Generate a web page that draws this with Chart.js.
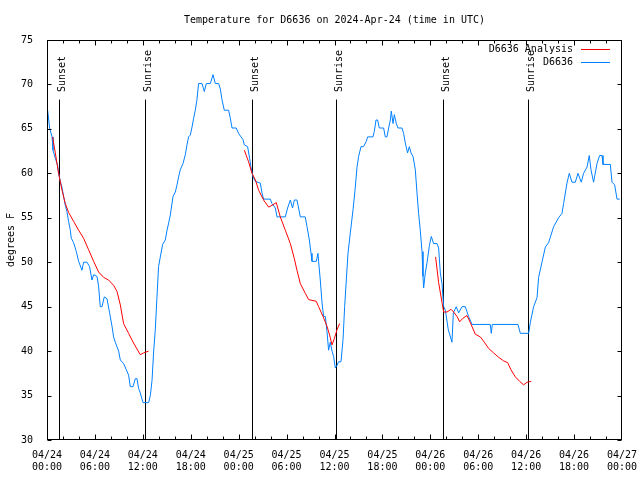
<!DOCTYPE html>
<html>
<head>
<meta charset="utf-8">
<script src="https://cdn.jsdelivr.net/npm/chart.js@4"></script>
<style>
  body { margin: 0; background: #fff; }
  canvas { display: block; }
</style>
</head>
<body>
<canvas id="myChart" width="640" height="480"></canvas>
<script>
// hours since 04/24 00:00 UTC
const blueHours = [0.08,0.33,0.63,0.75,1.04,1.33,1.45,1.67,1.88,2.08,2.29,2.50,2.70,2.92,3.04,3.33,3.67,3.96,4.38,4.58,5.01,5.33,5.63,5.84,6.26,6.46,6.67,6.89,7.17,7.51,7.84,8.14,8.34,8.55,8.97,9.18,9.59,9.93,10.22,10.43,10.77,11.06,11.27,11.47,11.68,12.02,12.72,12.94,13.15,13.35,13.56,13.77,13.97,14.19,14.48,14.81,15.03,15.23,15.44,15.78,16.07,16.28,16.48,16.69,17.03,17.32,17.53,17.73,17.94,18.16,18.36,18.57,18.78,18.98,19.41,19.70,19.95,20.45,20.79,21.07,21.49,21.70,21.91,22.20,22.74,22.95,23.17,23.70,23.99,24.29,24.54,24.71,25.12,25.37,25.54,25.80,26.08,26.71,26.92,27.12,27.96,28.17,28.59,28.80,29.84,30.13,30.47,30.75,30.97,31.30,31.50,31.72,32.34,32.56,32.85,33.06,33.18,33.72,33.93,34.01,34.22,34.44,34.64,34.85,35.06,35.26,35.47,35.69,35.89,36.10,36.31,36.51,36.81,37.07,37.27,37.48,37.69,37.98,38.32,38.57,38.82,39.02,39.32,39.64,39.98,40.15,40.82,40.98,41.20,41.40,41.61,42.15,42.36,42.57,42.78,42.99,43.11,43.33,43.49,43.74,43.95,44.45,44.65,44.87,45.15,45.37,45.58,45.83,46.12,46.33,46.53,46.74,46.96,47.08,47.16,47.37,47.58,47.87,48.12,48.41,48.84,49.04,49.25,49.46,49.67,49.88,50.25,50.71,50.88,51.25,51.54,51.97,52.38,52.79,53.22,55.51,55.63,55.76,58.98,59.27,60.31,60.52,60.93,61.36,61.56,61.98,62.40,62.81,63.44,64.06,64.49,64.69,65.11,65.40,65.74,66.15,66.49,66.90,67.19,67.62,67.90,68.12,68.44,68.87,69.20,69.50,69.62,70.54,70.75,71.08,71.38,71.71];
const blueTemps = [67.1,65.1,64.1,62.6,61.7,60.9,60.0,59.1,58.4,57.4,56.4,55.7,54.6,53.6,52.7,52.2,51.2,50.1,49.1,50.0,50.0,49.5,48.0,48.6,48.4,47.3,45.0,45.0,46.1,45.9,44.3,42.8,41.6,41.0,40.0,39.0,38.6,37.9,37.3,36.0,36.0,36.9,36.9,35.8,35.3,34.2,34.2,35.0,36.7,39.9,42.4,46.1,49.5,50.6,52.0,52.5,53.6,54.4,55.3,57.4,57.9,58.7,59.6,60.4,61.1,62.1,63.2,64.1,64.3,65.2,66.2,67.1,68.3,70.1,70.1,69.2,70.1,70.1,71.1,70.1,70.1,69.5,68.3,67.1,67.1,66.2,65.1,65.1,64.5,64.1,63.8,63.2,63.0,61.7,60.7,59.6,59.1,58.9,57.8,57.1,57.1,56.6,56.1,55.1,55.1,56.1,57.0,56.1,57.0,57.0,56.1,55.1,55.1,54.0,52.5,51.0,50.1,50.1,51.0,50.1,48.0,45.4,43.9,43.9,42.2,40.1,41.0,40.0,39.4,38.1,38.4,38.8,38.8,41.3,45.0,48.0,51.0,53.3,55.9,58.1,60.7,61.9,63.0,63.0,63.6,64.1,64.1,64.7,66.0,66.0,65.1,65.1,64.1,64.1,65.1,66.0,67.0,65.6,66.6,65.6,65.1,65.1,64.5,63.4,62.3,63.0,62.3,61.9,60.4,57.8,55.5,53.6,51.2,48.4,47.1,48.8,49.9,51.8,52.9,52.1,52.1,51.6,48.8,47.6,45.0,44.6,42.4,41.0,44.3,45.0,44.3,45.0,45.0,43.9,43.0,43.0,42.0,43.0,43.0,42.0,42.0,43.2,45.0,46.0,48.3,50.0,51.7,52.2,54.0,55.0,55.5,56.6,58.9,60.0,59.0,59.0,60.0,59.0,60.0,60.7,62.0,60.4,59.0,61.1,62.0,62.0,61.0,61.0,59.0,58.7,57.1,57.1];

// analysis: three nightly runs, null breaks the line
const redHours = [0.70,1.04,1.45,1.88,2.29,2.70,3.33,3.96,4.58,5.21,5.84,6.46,7.09,7.71,8.34,8.77,9.18,9.59,10.22,10.84,11.68,12.10,12.72,18.0,24.71,25.24,25.67,26.08,26.50,27.12,27.75,28.17,28.71,29.21,29.84,30.47,30.97,31.30,31.72,32.34,32.76,33.72,34.01,34.56,35.06,35.39,35.69,35.98,36.31,36.64,42.0,48.66,49.04,49.46,49.67,50.09,50.59,50.92,51.34,51.67,52.09,52.59,53.01,53.63,54.26,54.76,55.30,55.92,56.55,57.18,57.68,58.10,58.64,59.18,59.68,60.11,60.64];
const redTemps = [64.1,62.3,60.0,58.1,56.6,55.6,54.6,53.6,52.7,51.4,50.1,48.9,48.3,48.0,47.4,46.7,45.2,43.1,42.0,40.9,39.6,39.8,40.0,null,62.6,61.3,60.0,59.3,58.1,57.0,56.2,56.4,56.7,55.1,53.6,52.1,50.4,49.1,47.6,46.5,45.8,45.6,45.0,43.9,42.8,41.8,40.7,41.4,42.4,43.1,null,50.6,47.7,45.5,44.4,44.4,44.7,44.4,43.9,43.3,43.7,44.0,43.2,41.9,41.6,41.0,40.3,39.8,39.3,38.9,38.7,37.9,37.1,36.6,36.2,36.5,36.6];

const sunHours = [1.55, 12.22, 25.61, 36.25, 49.64, 60.28];
const sunLabels = ['Sunset', 'Sunrise', 'Sunset', 'Sunrise', 'Sunset', 'Sunrise'];
const dayLabels = ['04/24', '04/25', '04/26', '04/27'];
const yTicks = [30, 35, 40, 45, 50, 55, 60, 65, 70, 75];

const FONT = "'DejaVu Sans Mono', monospace";
Chart.defaults.font.family = FONT;
Chart.defaults.font.size = 10;
Chart.defaults.color = '#000';

const toPoints = (xs, ys) => xs.map((x, i) => ({ x: x, y: ys[i] }));

// box, inward ticks, sunrise/sunset markers and legend, gnuplot style
const frame = {
  id: 'frame',
  beforeDatasetsDraw(chart) {
    const { ctx, chartArea: a, scales: { x, y } } = chart;
    ctx.save();
    ctx.strokeStyle = '#000';
    ctx.lineWidth = 1;
    ctx.fillStyle = '#000';
    ctx.font = '10px ' + FONT;
    sunHours.forEach((h, i) => {
      const px = Math.round(x.getPixelForValue(h)) + 0.5;
      ctx.beginPath();
      ctx.moveTo(px, y.getPixelForValue(68.3));
      ctx.lineTo(px, a.bottom);
      ctx.stroke();
      ctx.save();
      ctx.translate(px + 5.5, 92);
      ctx.rotate(-Math.PI / 2);
      ctx.textAlign = 'left';
      ctx.textBaseline = 'alphabetic';
      ctx.fillText(sunLabels[i], 0, 0);
      ctx.restore();
    });
    ctx.restore();
  },
  afterDatasetsDraw(chart) {
    const { ctx, chartArea: a, scales: { x, y } } = chart;
    ctx.save();
    ctx.strokeStyle = '#000';
    ctx.lineWidth = 1;
    const L = Math.round(a.left) + 0.5, R = Math.round(a.right) - 0.5;
    const T = Math.round(a.top) + 0.5, B = Math.round(a.bottom) - 0.5;
    ctx.beginPath();
    for (let h = 2; h < 72; h += 2) {
      const px = Math.round(x.getPixelForValue(h)) + 0.5;
      const len = h % 6 === 0 ? 5 : 3;
      ctx.moveTo(px, B); ctx.lineTo(px, B - len);
      ctx.moveTo(px, T); ctx.lineTo(px, T + len);
    }
    yTicks.forEach(v => {
      const py = Math.round(y.getPixelForValue(v)) + 0.5;
      ctx.moveTo(L, py); ctx.lineTo(L + 4, py);
      ctx.moveTo(R, py); ctx.lineTo(R - 4, py);
    });
    ctx.stroke();
    ctx.strokeRect(L, T, R - L, B - T);

    // legend
    ctx.font = '10px ' + FONT;
    ctx.fillStyle = '#000';
    ctx.textAlign = 'right';
    ctx.textBaseline = 'middle';
    chart.data.datasets.forEach((ds, i) => {
      const ly = 49.5 + i * 13;
      ctx.fillText(ds.label, 573, ly);
      ctx.strokeStyle = ds.borderColor;
      ctx.beginPath();
      ctx.moveTo(581, ly);
      ctx.lineTo(610, ly);
      ctx.stroke();
    });
    ctx.restore();
  }
};

const ctx = document.getElementById('myChart');

new Chart(ctx, {
  type: 'line',
  data: {
    datasets: [
      {
        label: 'D6636 Analysis',
        data: toPoints(redHours, redTemps),
        borderColor: '#ff0000',
        borderWidth: 1,
        pointRadius: 0,
        spanGaps: false,
        tension: 0
      },
      {
        label: 'D6636',
        data: toPoints(blueHours, blueTemps),
        borderColor: '#0080ff',
        borderWidth: 1,
        pointRadius: 0,
        tension: 0
      }
    ]
  },
  options: {
    responsive: false,
    animation: false,
    devicePixelRatio: 1,
    layout: { padding: { left: 0, right: 18, top: 0, bottom: 0 } },
    plugins: {
      legend: { display: false },
      tooltip: { enabled: false },
      title: {
        display: true,
        fullSize: false,
        text: 'Temperature for D6636 on 2024-Apr-24 (time in UTC)',
        font: { size: 10, weight: 'normal' },
        color: '#000',
        padding: { top: 14, bottom: 14 }
      }
    },
    scales: {
      x: {
        type: 'linear',
        min: 0,
        max: 72,
        grid: { display: false },
        border: { display: false },
        ticks: {
          stepSize: 2,
          autoSkip: false,
          maxRotation: 0,
          padding: 1,
          callback: v => {
            if (v % 6 !== 0) return '';
            const hh = String(v % 24).padStart(2, '0');
            return [dayLabels[Math.floor(v / 24)], hh + ':00'];
          }
        },
        afterFit: s => {
          s.height = 40;
          s.paddingRight = 0;
        }
      },
      y: {
        min: 30,
        max: 75,
        grid: { display: false },
        border: { display: false },
        ticks: { stepSize: 5, padding: 6 },
        title: { display: true, text: 'degrees F', padding: { top: 5, bottom: 0 } },
        afterFit: s => { s.width = 47; }
      }
    }
  },
  plugins: [frame]
});
</script>
</body>
</html>
